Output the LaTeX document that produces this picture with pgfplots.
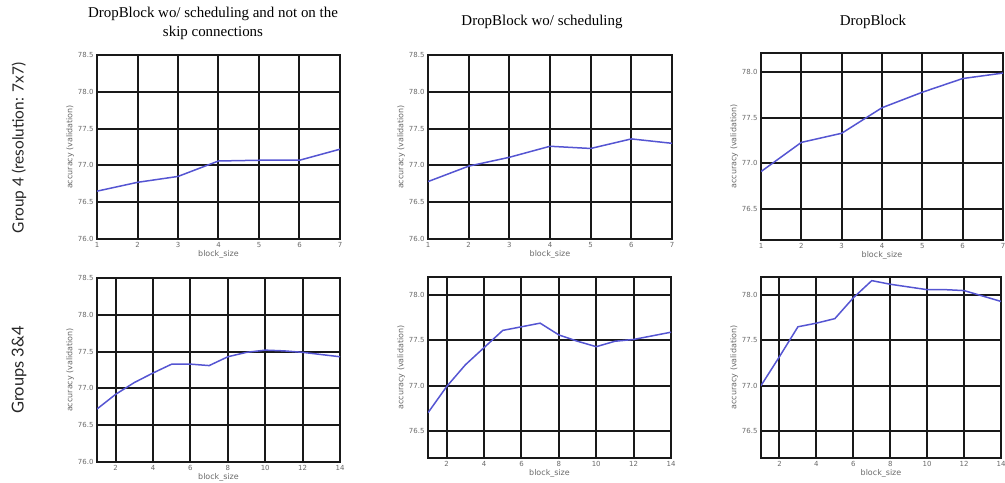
\documentclass[border=0pt]{standalone}
\usepackage{fontspec}
\setmainfont{Liberation Serif}
\newfontfamily\ticksf{DejaVu Sans}
\newfontfamily\rowsf{Lato}
\usepackage{pgfplots}
\pgfplotsset{compat=1.18}
\definecolor{lineblue}{RGB}{85,85,210}
\definecolor{labgray}{RGB}{105,105,105}
\definecolor{gridcol}{RGB}{25,25,25}
\pgfplotsset{
  dbstyle/.style={
    scale only axis, anchor=north west,
    axis line style={gridcol, line width=2bp},
    grid=major, grid style={gridcol, line width=2bp},
    major tick style={draw=none},
    /pgf/number format/assume math mode=true,
    tick label style={font=\ticksf\fontsize{7}{8}\selectfont, text=labgray},
    yticklabel={\pgfmathprintnumber[fixed,fixed zerofill,precision=1]{\tick}},
    xlabel={block\_size}, ylabel={accuracy (validation)},
    label style={font=\ticksf\fontsize{8}{9}\selectfont, text=labgray},
    xlabel style={yshift=4bp},
    ylabel style={yshift=-3bp},
  },
  dbline/.style={draw=lineblue, line width=1.5bp, mark=none},
  toprow/.style={xmin=1, xmax=7, xtick={1,2,3,4,5,6,7}},
  botrow/.style={xmin=1, xmax=14, xtick={2,4,6,8,10,12,14}},
  wide/.style={ymin=76, ymax=78.5, ytick={76,76.5,77,77.5,78,78.5}},
  narrow/.style={ymin=76.2, ymax=78.2, ytick={76.5,77,77.5,78}},
}
\begin{document}
\begin{tikzpicture}
\path[use as bounding box] (0,0) rectangle (1005bp,-483bp);
% titles
\node[font=\fontsize{15}{19}\selectfont, align=center] at (213bp,-23bp) {DropBlock wo/ scheduling and not on the\\skip connections};
\node[font=\fontsize{15}{19}\selectfont] at (542bp,-22bp) {DropBlock wo/ scheduling};
\node[font=\fontsize{15}{19}\selectfont] at (873bp,-22bp) {DropBlock};
% row labels
\node[rotate=90, font=\rowsf\fontsize{15.5}{18}\selectfont, text=black!85] at (19bp,-148bp) {Group 4 (resolution: 7x7)};
\node[rotate=90, font=\rowsf\fontsize{16.5}{18}\selectfont, text=black!85] at (19bp,-370bp) {Groups 3\&4};
% top-left
\begin{axis}[dbstyle, toprow, wide, at={(97bp,-55bp)}, width=243bp, height=184bp]
\addplot[dbline] coordinates {(1,76.65) (2,76.77) (3,76.85) (4,77.06) (5,77.07) (6,77.07) (7,77.22)};
\end{axis}
% top-middle
\begin{axis}[dbstyle, toprow, wide, at={(428bp,-55bp)}, width=244bp, height=184bp]
\addplot[dbline] coordinates {(1,76.78) (2,76.99) (3,77.11) (4,77.26) (5,77.23) (6,77.36) (7,77.30)};
\end{axis}
% top-right
\begin{axis}[dbstyle, toprow, narrow, ymin=76.16, ymax=78.21, at={(761bp,-53bp)}, width=242bp, height=187bp]
\addplot[dbline] coordinates {(1,76.91) (2,77.23) (3,77.33) (4,77.61) (5,77.78) (6,77.93) (7,77.99)};
\end{axis}
% bottom-left
\begin{axis}[dbstyle, botrow, wide, at={(97bp,-278bp)}, width=243bp, height=184bp]
\addplot[dbline] coordinates {(1,76.72) (2,76.92) (3,77.08) (4,77.21) (5,77.33) (6,77.33) (7,77.31) (8,77.43) (9,77.49) (10,77.52) (11,77.51) (12,77.49) (13,77.46) (14,77.43)};
\end{axis}
% bottom-middle
\begin{axis}[dbstyle, botrow, narrow, at={(428bp,-277bp)}, width=243bp, height=181bp]
\addplot[dbline] coordinates {(1,76.70) (2,76.99) (3,77.23) (4,77.42) (5,77.61) (6,77.65) (7,77.69) (8,77.56) (9,77.49) (10,77.43) (11,77.49) (12,77.51) (13,77.55) (14,77.59)};
\end{axis}
% bottom-right
\begin{axis}[dbstyle, botrow, narrow, at={(761bp,-277bp)}, width=240bp, height=181bp]
\addplot[dbline] coordinates {(1,77.00) (2,77.32) (3,77.65) (4,77.69) (5,77.74) (6,77.97) (7,78.16) (8,78.12) (9,78.09) (10,78.06) (11,78.06) (12,78.05) (13,77.99) (14,77.93)};
\end{axis}
\end{tikzpicture}
\end{document}
